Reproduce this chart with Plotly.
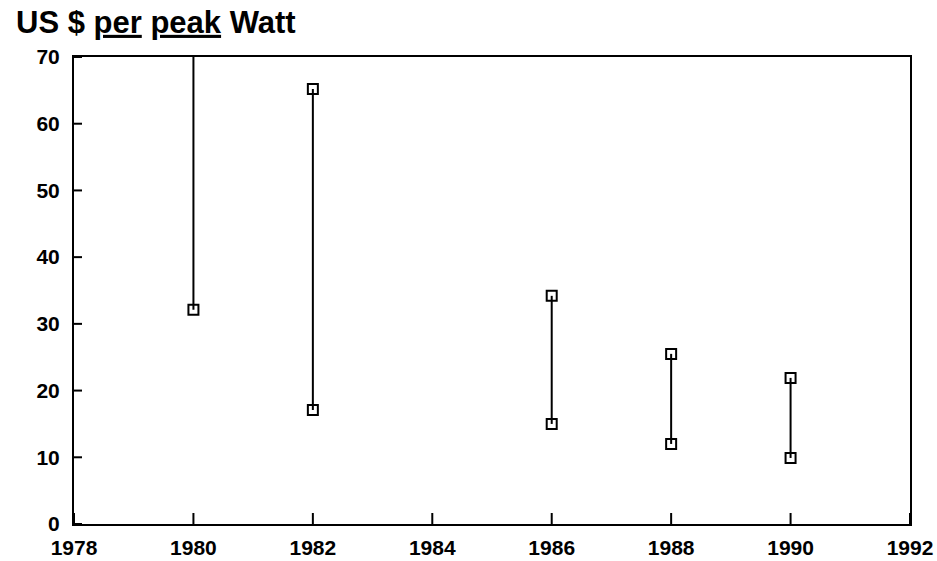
import plotly.graph_objects as go

years = [1980, 1982, 1986, 1988, 1990]
high_price = [80, 65.2, 34.2, 25.5, 21.9]
low_price = [32.1, 17.1, 15, 12, 9.9]
x_ticks = [1978, 1980, 1982, 1984, 1986, 1988, 1990, 1992]
y_ticks = [0, 10, 20, 30, 40, 50, 60, 70]

fig = go.Figure()
for yr, hi, lo in zip(years, high_price, low_price):
    fig.add_trace(go.Scatter(
        x=[yr, yr], y=[lo, hi], mode="lines+markers",
        line=dict(color="black", width=2),
        marker=dict(symbol="square-open", size=10, color="black", line=dict(width=2)),
        showlegend=False, cliponaxis=True,
    ))

# inward tick marks, placed at the tick values through the axes' own scales
plot_w, plot_h = 937 - 74 - 27, 561 - 57 - 37
for t in x_ticks:
    fig.add_shape(type="line", xref="x", yref="y domain", x0=t, x1=t, y0=0, y1=11 / plot_h,
                  line=dict(color="black", width=2), layer="above")
for t in y_ticks:
    fig.add_shape(type="line", xref="x domain", yref="y", x0=0, x1=8 / plot_w, y0=t, y1=t,
                  line=dict(color="black", width=2), layer="above")

font = dict(family="Liberation Sans, Arial, sans-serif", size=21, color="black")
fig.update_layout(
    width=937, height=561,
    margin=dict(l=74, r=27, t=57, b=37, autoexpand=False),
    paper_bgcolor="white", plot_bgcolor="white",
    font=font,
    title=dict(
        text="<b>US $ <span style='text-decoration:underline'>per</span> <span style='text-decoration:underline'>peak</span> Watt</b>",
        x=16/937, xanchor="left", xref="container", y=1 - 22/561, yanchor="middle", yref="container",
        font=dict(family="Liberation Sans, Arial, sans-serif", size=31, color="black"),
    ),
    xaxis=dict(range=[1978, 1992], tickmode="array", tickvals=x_ticks,
               ticktext=[f"<b>{t}</b>" for t in x_ticks],
               showgrid=False, zeroline=False, showline=True, linecolor="black",
               linewidth=2, mirror=True, ticks="", automargin=False,
               ticklabelstandoff=4),
    yaxis=dict(range=[0, 70], tickmode="array", tickvals=y_ticks,
               ticktext=[f"<b>{t}</b>" for t in y_ticks],
               showgrid=False, zeroline=False, showline=True, linecolor="black",
               linewidth=2, mirror=True, ticks="", automargin=False,
               ticklabelstandoff=8),
)
fig.write_html("out.html", post_script="document.body.style.margin='0';", config={"displayModeBar": False})
